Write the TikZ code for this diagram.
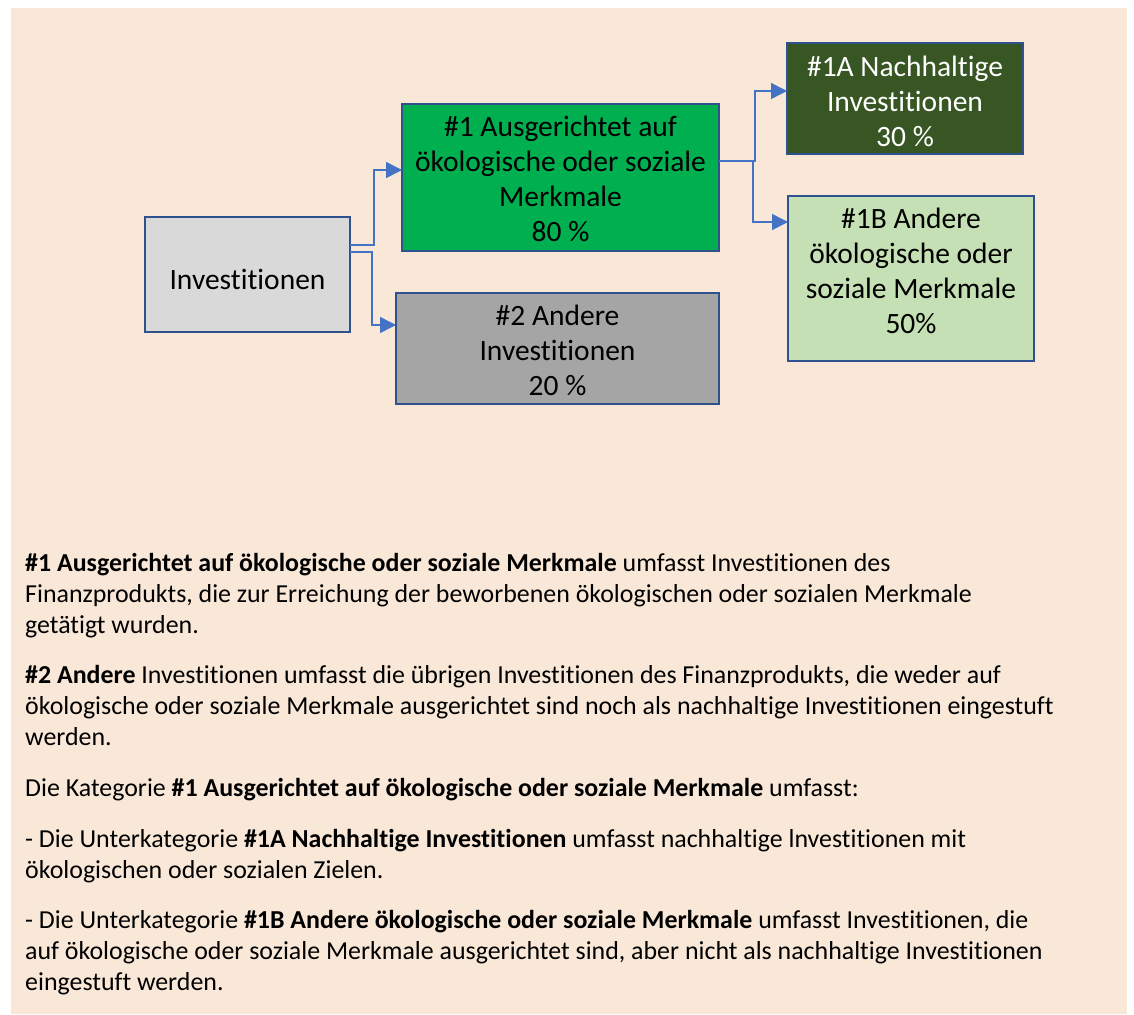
\documentclass[tikz,border=0pt]{standalone}
\usepackage{fontspec}
\setmainfont{Carlito}[Ligatures=NoCommon]
\usetikzlibrary{arrows.meta}
\definecolor{bgpeach}{HTML}{F9E8D8}
\definecolor{boxline}{HTML}{2F528F}
\definecolor{connblue}{HTML}{4472C4}
\definecolor{fillinv}{HTML}{D9D9D9}
\definecolor{fillone}{HTML}{00B050}
\definecolor{fillonea}{HTML}{375623}
\definecolor{filloneb}{HTML}{C5E0B4}
\definecolor{filltwo}{HTML}{A5A5A5}
\tikzset{
  box/.style={draw=boxline, line width=2.5pt, rectangle, inner sep=0pt, outer sep=0pt},
  boxtext/.style={align=center, inner sep=0pt, font=\fontsize{29.5}{35}\selectfont},
  conn/.style={draw=connblue, line width=1.5pt, -{Triangle[length=16pt,width=16pt]}},
  bodytext/.style={anchor=base west, inner sep=0pt, font=\fontsize{25.9}{31}\selectfont}
}
\begin{document}
\begin{tikzpicture}[x=1pt,y=-1pt]
\useasboundingbox (0,0) rectangle (1134,1014);
\fill[bgpeach] (11,8) rectangle (1127,1014);

% boxes
\node[box, fill=fillinv, minimum width=205pt, minimum height=115pt] (inv) at (247.5,274.5) {};
\node[box, fill=fillone, minimum width=317pt, minimum height=147pt] (b1) at (560.5,177.5) {};
\node[box, fill=filltwo, minimum width=323pt, minimum height=111pt] (b2) at (557.5,348.5) {};
\node[box, fill=fillonea, minimum width=236pt, minimum height=111pt] (b1a) at (905,98.5) {};
\node[box, fill=filloneb, minimum width=246pt, minimum height=165pt] (b1b) at (911,278.5) {};

% box texts
\node[boxtext] (invt) at ([yshift=-5pt]inv.center) {Investitionen};
\node[boxtext] (b1t) at ([yshift=-1.5pt]b1.center) {\#1 Ausgerichtet auf\\ökologische oder soziale\\Merkmale\\80 \%};
\node[boxtext] (b2t) at ([yshift=-1.5pt]b2.center) {\#2 Andere\\Investitionen\\20 \%};
\node[boxtext, text=white] (b1at) at ([yshift=-2.5pt]b1a.center) {\#1A Nachhaltige\\Investitionen\\30 \%};
\node[boxtext] (b1bt) at ([yshift=8pt]b1b.center) {\#1B Andere\\ökologische oder\\soziale Merkmale\\50\%};

% connectors
\draw[conn] ([yshift=29.5pt]inv.east) -- ++(24,0) |- ([yshift=7.5pt]b1.west);
\draw[conn] ([yshift=22.5pt]inv.east) -- ++(22,0) |- ([yshift=23.5pt]b2.west);
\draw[conn] ([yshift=16.5pt]b1.east) -- ++(36,0) |- ([yshift=7.5pt]b1a.west);
\draw[conn] ([yshift=16.5pt]b1.east) -- ++(34,0) |- ([yshift=56.5pt]b1b.west);

% body text
\node[bodytext] (p1a) at (25,571) {\textbf{\#1 Ausgerichtet auf ökologische oder soziale Merkmale} umfasst Investitionen des};
\node[bodytext] (p1b) at (25,602) {Finanzprodukts, die zur Erreichung der beworbenen ökologischen oder sozialen Merkmale};
\node[bodytext] (p1c) at (25,633) {getätigt wurden.};
\node[bodytext] (p2a) at (25,683) {\textbf{\#2 Andere} Investitionen umfasst die übrigen Investitionen des Finanzprodukts, die weder auf};
\node[bodytext] (p2b) at (25,714) {ökologische oder soziale Merkmale ausgerichtet sind noch als nachhaltige Investitionen eingestuft};
\node[bodytext] (p2c) at (25,745) {werden.};
\node[bodytext] (p3a) at (25,796) {Die Kategorie \textbf{\#1 Ausgerichtet auf ökologische oder soziale Merkmale} umfasst:};
\node[bodytext] (p4a) at (25,847) {- Die Unterkategorie \textbf{\#1A Nachhaltige Investitionen} umfasst nachhaltige lnvestitionen mit};
\node[bodytext] (p4b) at (25,878) {ökologischen oder sozialen Zielen.};
\node[bodytext] (p5a) at (25,928) {- Die Unterkategorie \textbf{\#1B Andere ökologische oder soziale Merkmale} umfasst Investitionen, die};
\node[bodytext] (p5b) at (25,959) {auf ökologische oder soziale Merkmale ausgerichtet sind, aber nicht als nachhaltige Investitionen};
\node[bodytext] (p5c) at (25,990) {eingestuft werden.};
\end{tikzpicture}
\end{document}
